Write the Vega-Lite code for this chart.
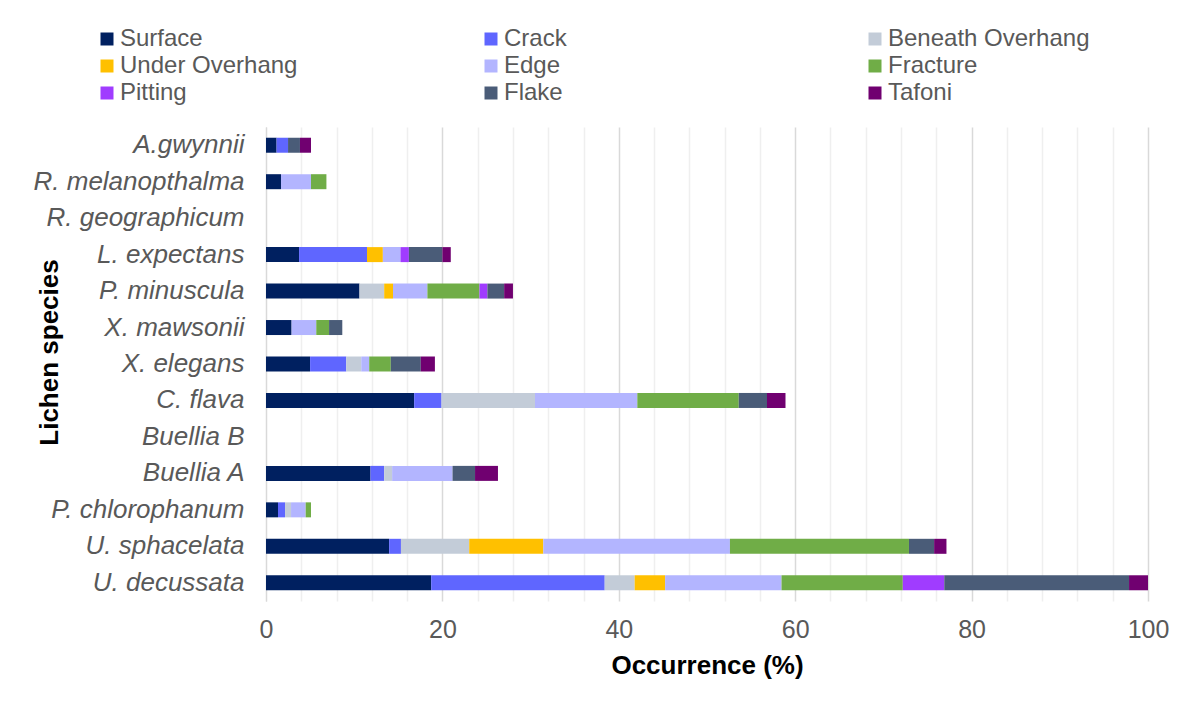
{
  "$schema": "https://vega.github.io/schema/vega-lite/v6.json",
  "width": 882,
  "height": 474,
  "autosize": {"type": "none"},
  "padding": {"left": 266, "top": 127, "right": 50, "bottom": 112},
  "background": "white",
  "config": {"font": "Liberation Sans", "view": {"stroke": null}},
  "data": {
    "values": [
      {"species": "A.gwynnii", "type": "Surface", "pct": 1.2},
      {"species": "A.gwynnii", "type": "Crack", "pct": 1.3},
      {"species": "A.gwynnii", "type": "Flake", "pct": 1.35},
      {"species": "A.gwynnii", "type": "Tafoni", "pct": 1.25},
      {"species": "R. melanopthalma", "type": "Surface", "pct": 1.7},
      {"species": "R. melanopthalma", "type": "Edge", "pct": 3.4},
      {"species": "R. melanopthalma", "type": "Fracture", "pct": 1.75},
      {"species": "L.  expectans", "type": "Surface", "pct": 3.75},
      {"species": "L.  expectans", "type": "Crack", "pct": 7.7},
      {"species": "L.  expectans", "type": "Under Overhang", "pct": 1.8},
      {"species": "L.  expectans", "type": "Edge", "pct": 2.0},
      {"species": "L.  expectans", "type": "Pitting", "pct": 0.95},
      {"species": "L.  expectans", "type": "Flake", "pct": 3.8},
      {"species": "L.  expectans", "type": "Tafoni", "pct": 0.95},
      {"species": "P. minuscula", "type": "Surface", "pct": 10.6},
      {"species": "P. minuscula", "type": "Beneath Overhang", "pct": 2.8},
      {"species": "P. minuscula", "type": "Under Overhang", "pct": 1.0},
      {"species": "P. minuscula", "type": "Edge", "pct": 3.9},
      {"species": "P. minuscula", "type": "Fracture", "pct": 5.9},
      {"species": "P. minuscula", "type": "Pitting", "pct": 0.9},
      {"species": "P. minuscula", "type": "Flake", "pct": 1.9},
      {"species": "P. minuscula", "type": "Tafoni", "pct": 1.0},
      {"species": "X. mawsonii", "type": "Surface", "pct": 2.9},
      {"species": "X. mawsonii", "type": "Edge", "pct": 2.8},
      {"species": "X. mawsonii", "type": "Fracture", "pct": 1.45},
      {"species": "X. mawsonii", "type": "Flake", "pct": 1.5},
      {"species": "X. elegans", "type": "Surface", "pct": 5.0},
      {"species": "X. elegans", "type": "Crack", "pct": 4.1},
      {"species": "X. elegans", "type": "Beneath Overhang", "pct": 1.7},
      {"species": "X. elegans", "type": "Edge", "pct": 0.9},
      {"species": "X. elegans", "type": "Fracture", "pct": 2.45},
      {"species": "X. elegans", "type": "Flake", "pct": 3.4},
      {"species": "X. elegans", "type": "Tafoni", "pct": 1.6},
      {"species": "C. flava", "type": "Surface", "pct": 16.8},
      {"species": "C. flava", "type": "Crack", "pct": 3.1},
      {"species": "C. flava", "type": "Beneath Overhang", "pct": 10.6},
      {"species": "C. flava", "type": "Edge", "pct": 11.6},
      {"species": "C. flava", "type": "Fracture", "pct": 11.5},
      {"species": "C. flava", "type": "Flake", "pct": 3.2},
      {"species": "C. flava", "type": "Tafoni", "pct": 2.1},
      {"species": "Buellia A", "type": "Surface", "pct": 11.85},
      {"species": "Buellia A", "type": "Crack", "pct": 1.55},
      {"species": "Buellia A", "type": "Beneath Overhang", "pct": 0.9},
      {"species": "Buellia A", "type": "Edge", "pct": 6.85},
      {"species": "Buellia A", "type": "Flake", "pct": 2.55},
      {"species": "Buellia A", "type": "Tafoni", "pct": 2.6},
      {"species": "P. chlorophanum", "type": "Surface", "pct": 1.36},
      {"species": "P. chlorophanum", "type": "Crack", "pct": 0.8},
      {"species": "P. chlorophanum", "type": "Beneath Overhang", "pct": 0.68},
      {"species": "P. chlorophanum", "type": "Edge", "pct": 1.66},
      {"species": "P. chlorophanum", "type": "Fracture", "pct": 0.6},
      {"species": "U. sphacelata", "type": "Surface", "pct": 13.96},
      {"species": "U. sphacelata", "type": "Crack", "pct": 1.34},
      {"species": "U. sphacelata", "type": "Beneath Overhang", "pct": 7.74},
      {"species": "U. sphacelata", "type": "Under Overhang", "pct": 8.4},
      {"species": "U. sphacelata", "type": "Edge", "pct": 21.16},
      {"species": "U. sphacelata", "type": "Fracture", "pct": 20.3},
      {"species": "U. sphacelata", "type": "Flake", "pct": 2.85},
      {"species": "U. sphacelata", "type": "Tafoni", "pct": 1.4},
      {"species": "U. decussata", "type": "Surface", "pct": 18.73},
      {"species": "U. decussata", "type": "Crack", "pct": 19.67},
      {"species": "U. decussata", "type": "Beneath Overhang", "pct": 3.4},
      {"species": "U. decussata", "type": "Under Overhang", "pct": 3.45},
      {"species": "U. decussata", "type": "Edge", "pct": 13.2},
      {"species": "U. decussata", "type": "Fracture", "pct": 13.75},
      {"species": "U. decussata", "type": "Pitting", "pct": 4.7},
      {"species": "U. decussata", "type": "Flake", "pct": 20.95},
      {"species": "U. decussata", "type": "Tafoni", "pct": 2.15}
    ]
  },
  "transform": [
    {"calculate": "indexof(['Surface', 'Crack', 'Beneath Overhang', 'Under Overhang', 'Edge', 'Fracture', 'Pitting', 'Flake', 'Tafoni'], datum.type)", "as": "stackOrder"}
  ],
  "mark": {"type": "bar", "size": 15},
  "encoding": {
    "y": {
      "field": "species",
      "type": "nominal",
      "scale": {
        "domain": ["A.gwynnii", "R. melanopthalma", "R. geographicum", "L.  expectans", "P. minuscula", "X. mawsonii", "X. elegans", "C. flava", "Buellia B", "Buellia A", "P. chlorophanum", "U. sphacelata", "U. decussata"],
        "paddingInner": 0,
        "paddingOuter": 0
      },
      "axis": {
        "title": "Lichen species",
        "titleFontSize": 26,
        "titleFontWeight": "bold",
        "titleColor": "#000000",
        "titleAngle": 270,
        "titleAlign": "center",
        "titleBaseline": "middle",
        "titleX": -217,
        "titleY": 225,
        "labelFontSize": 26,
        "labelFontStyle": "italic",
        "labelColor": "#595959",
        "labelPadding": 22,
        "ticks": false,
        "domain": true,
        "domainColor": "#D9D9D9",
        "grid": false,
        "labelLimit": 400
      }
    },
    "x": {
      "field": "pct",
      "type": "quantitative",
      "stack": "zero",
      "scale": {"domain": [0, 100], "nice": false},
      "axis": {
        "title": "Occurrence (%)",
        "titleFontSize": 26,
        "titleFontWeight": "bold",
        "titleColor": "#000000",
        "titlePadding": 10,
        "values": [0, 4, 8, 12, 16, 20, 24, 28, 32, 36, 40, 44, 48, 52, 56, 60, 64, 68, 72, 76, 80, 84, 88, 92, 96, 100],
        "labelExpr": "datum.value % 20 === 0 ? datum.label : ''",
        "labelFontSize": 25,
        "labelColor": "#595959",
        "labelPadding": 16,
        "labelFlush": false,
        "ticks": false,
        "domain": false,
        "grid": true,
        "gridColor": {"condition": {"test": "datum.value % 20 === 0", "value": "#D9D9D9"}, "value": "#EFEFEF"},
        "gridWidth": 1.5
      }
    },
    "order": {"field": "stackOrder", "type": "quantitative", "sort": "ascending"},
    "color": {
      "field": "type",
      "type": "nominal",
      "sort": ["Surface", "Crack", "Beneath Overhang", "Under Overhang", "Edge", "Fracture", "Pitting", "Flake", "Tafoni"],
      "scale": {
        "domain": ["Surface", "Crack", "Beneath Overhang", "Under Overhang", "Edge", "Fracture", "Pitting", "Flake", "Tafoni"],
        "range": ["#002060", "#5F66FF", "#C3CCD8", "#FFC000", "#B3B5FF", "#70AD47", "#A03CFF", "#4A5C78", "#700070"]
      },
      "legend": {
        "title": null,
        "orient": "none",
        "direction": "horizontal",
        "legendX": -171,
        "legendY": -100,
        "columns": 3,
        "gridAlign": "all",
        "columnPadding": 157,
        "rowPadding": 3,
        "symbolType": "square",
        "symbolSize": 169,
        "symbolStrokeWidth": 0,
        "labelFontSize": 24,
        "labelColor": "#595959",
        "labelOffset": 1,
        "labelLimit": 400
      }
    }
  }
}
